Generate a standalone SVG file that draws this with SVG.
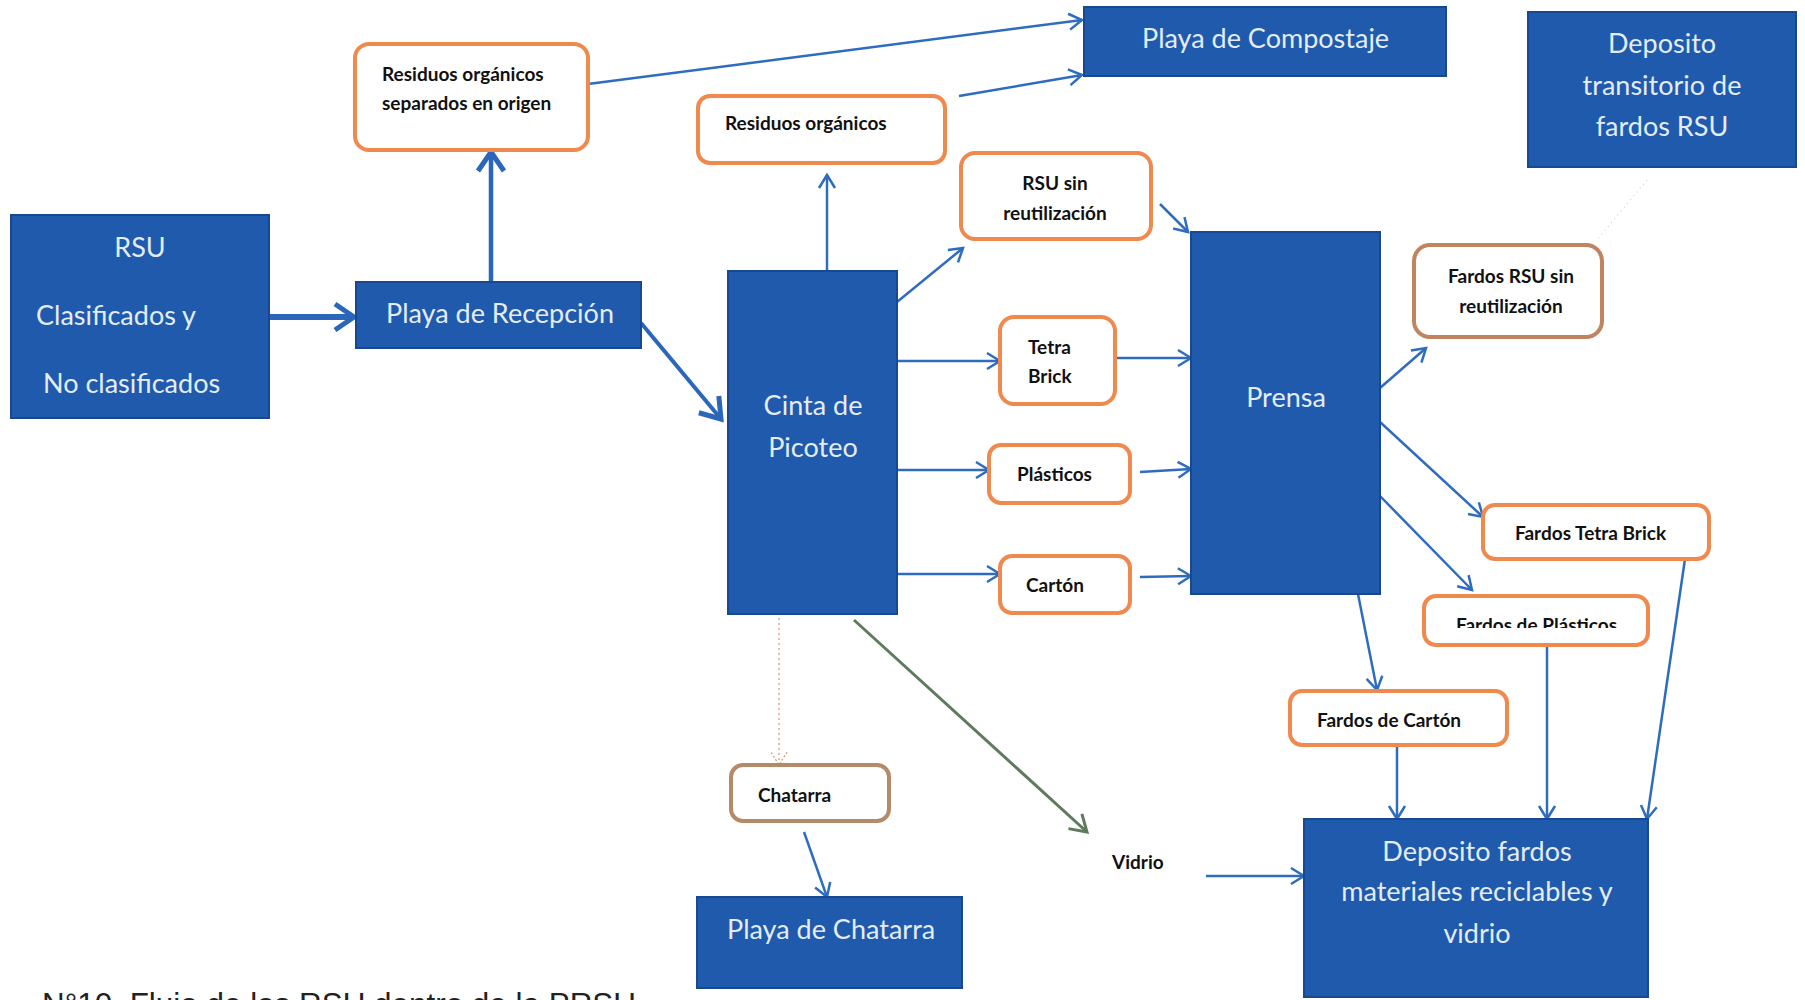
<svg xmlns="http://www.w3.org/2000/svg" width="1805" height="1000" viewBox="0 0 1805 1000">
<style>
.blue{fill:#1f5aad;stroke:#18488f;stroke-width:2}
.org{fill:#fff;stroke:#f0894e;stroke-width:4}
.brn{fill:#fff;stroke:#c0845e;stroke-width:4}
.bt{fill:#e4ecf7;font-family:Lato,"Open Sans",sans-serif;font-size:27px}
.ot{fill:#111;font-family:Lato,"Open Sans",sans-serif;font-weight:bold;font-size:19px}
.c{fill:none;stroke:#2e6cc0;stroke-width:2.5}
.ck{fill:none;stroke:#2a66ba}
.cap{fill:#222;font-family:"Liberation Sans",Arial,sans-serif;font-size:31px}
</style>
<defs>
<marker id="ah" viewBox="0 0 16 18" markerWidth="16" markerHeight="18" refX="14" refY="9" orient="auto" markerUnits="userSpaceOnUse" overflow="visible">
<path d="M1,1 L14,9 L1,17" fill="none" stroke="#2e6cc0" stroke-width="2.5"/>
</marker>
<marker id="ahL" viewBox="0 0 24 30" markerWidth="24" markerHeight="30" refX="21" refY="15" orient="auto" markerUnits="userSpaceOnUse" overflow="visible">
<path d="M2,2 L21,15 L2,28" fill="none" stroke="#2a66ba" stroke-width="5"/>
</marker>
<marker id="ahG" viewBox="0 0 20 22" markerWidth="20" markerHeight="22" refX="17" refY="11" orient="auto" markerUnits="userSpaceOnUse" overflow="visible">
<path d="M1,1 L17,11 L1,21" fill="none" stroke="#5e7b5e" stroke-width="3"/>
</marker>
<marker id="ahD" viewBox="0 0 16 18" markerWidth="16" markerHeight="18" refX="14" refY="9" orient="auto" markerUnits="userSpaceOnUse" overflow="visible">
<path d="M1,1 L14,9 L1,17" fill="none" stroke="#c89a78" stroke-width="1.2" stroke-dasharray="2 2"/>
</marker>
<clipPath id="clipFP"><rect x="1420" y="590" width="240" height="38"/></clipPath>
</defs>

<g id="connectors">
<line class="ck" x1="269" y1="317" x2="354" y2="317" stroke-width="6" marker-end="url(#ahL)"/>
<line class="ck" x1="491" y1="282" x2="491" y2="152" stroke-width="4.5" marker-end="url(#ahL)"/>
<line class="ck" x1="641" y1="323" x2="721" y2="419" stroke-width="4" marker-end="url(#ahL)"/>
<line class="c" x1="588" y1="84" x2="1082" y2="20" stroke-width="3" marker-end="url(#ah)"/>
<line class="c" x1="959" y1="96" x2="1082" y2="75" stroke-width="3" marker-end="url(#ah)"/>
<line class="c" x1="827" y1="271" x2="827" y2="175" marker-end="url(#ah)"/>
<line class="c" x1="897" y1="302" x2="963" y2="248" marker-end="url(#ah)"/>
<line class="c" x1="1160" y1="204" x2="1188" y2="232" marker-end="url(#ah)"/>
<line class="c" x1="897" y1="361" x2="1000" y2="361" marker-end="url(#ah)"/>
<line class="c" x1="1115" y1="358" x2="1191" y2="358" marker-end="url(#ah)"/>
<line class="c" x1="897" y1="470" x2="989" y2="470" marker-end="url(#ah)"/>
<line class="c" x1="1140" y1="472" x2="1191" y2="469" marker-end="url(#ah)"/>
<line class="c" x1="897" y1="574" x2="1000" y2="574" marker-end="url(#ah)"/>
<line class="c" x1="1140" y1="577" x2="1191" y2="576" marker-end="url(#ah)"/>
<line x1="779" y1="618" x2="779" y2="765" fill="none" stroke="#c89a78" stroke-width="1.2" stroke-dasharray="2 3" marker-end="url(#ahD)"/>
<line x1="854" y1="620" x2="1087" y2="832" fill="none" stroke="#5e7b5e" stroke-width="3" marker-end="url(#ahG)"/>
<line class="c" x1="804" y1="832" x2="827" y2="897" marker-end="url(#ah)"/>
<line class="c" x1="1206" y1="876" x2="1304" y2="876" marker-end="url(#ah)"/>
<line class="c" x1="1380" y1="388" x2="1426" y2="348" marker-end="url(#ah)"/>
<line class="c" x1="1380" y1="422" x2="1483" y2="517" marker-end="url(#ah)"/>
<line class="c" x1="1380" y1="496" x2="1472" y2="590" marker-end="url(#ah)"/>
<line class="c" x1="1358" y1="594" x2="1377" y2="690" marker-end="url(#ah)"/>
<line class="c" x1="1397" y1="745" x2="1397" y2="819" marker-end="url(#ah)"/>
<line class="c" x1="1547" y1="645" x2="1547" y2="819" marker-end="url(#ah)"/>
<line class="c" x1="1685" y1="559" x2="1647" y2="819" marker-end="url(#ah)"/>
<line x1="1647" y1="180" x2="1597" y2="240" fill="none" stroke="#e2cbb4" stroke-width="1.2" stroke-dasharray="1 4"/>
</g>

<g id="rsu">
<rect class="blue" x="11" y="215" width="258" height="203"/>
<text class="bt" x="140" y="257" text-anchor="middle">RSU</text>
<text class="bt" x="36" y="325">Clasificados y</text>
<text class="bt" x="43" y="393">No clasificados</text>
</g>
<g id="playa-recepcion">
<rect class="blue" x="356" y="282" width="285" height="66"/>
<text class="bt" x="386" y="323">Playa de Recepción</text>
</g>
<g id="residuos-separados">
<rect class="org" x="355" y="44" width="233" height="106" rx="14"/>
<text class="ot" x="382" y="81">Residuos orgánicos</text>
<text class="ot" x="382" y="110">separados en origen</text>
</g>
<g id="playa-compostaje">
<rect class="blue" x="1084" y="7" width="362" height="69"/>
<text class="bt" x="1142" y="48">Playa de Compostaje</text>
</g>
<g id="deposito-transitorio">
<rect class="blue" x="1528" y="12" width="268" height="155"/>
<text class="bt" x="1662" y="53" text-anchor="middle">Deposito</text>
<text class="bt" x="1662" y="95" text-anchor="middle">transitorio de</text>
<text class="bt" x="1662" y="136" text-anchor="middle">fardos RSU</text>
</g>
<g id="residuos-organicos">
<rect class="org" x="698" y="96" width="247" height="67" rx="12"/>
<text class="ot" x="725" y="130">Residuos orgánicos</text>
</g>
<g id="rsu-sin-reutilizacion">
<rect class="org" x="961" y="153" width="190" height="86" rx="14"/>
<text class="ot" x="1055" y="190" text-anchor="middle">RSU sin</text>
<text class="ot" x="1055" y="220" text-anchor="middle">reutilización</text>
</g>
<g id="cinta-picoteo">
<rect class="blue" x="728" y="271" width="169" height="343"/>
<text class="bt" x="813" y="415" text-anchor="middle">Cinta de</text>
<text class="bt" x="813" y="457" text-anchor="middle">Picoteo</text>
</g>
<g id="tetra-brick">
<rect class="org" x="1000" y="317" width="115" height="87" rx="14"/>
<text class="ot" x="1028" y="354">Tetra</text>
<text class="ot" x="1028" y="383">Brick</text>
</g>
<g id="plasticos">
<rect class="org" x="989" y="445" width="141" height="58" rx="12"/>
<text class="ot" x="1017" y="481">Plásticos</text>
</g>
<g id="carton">
<rect class="org" x="1000" y="556" width="130" height="57" rx="12"/>
<text class="ot" x="1026" y="592">Cartón</text>
</g>
<g id="prensa">
<rect class="blue" x="1191" y="232" width="189" height="362"/>
<text class="bt" x="1286" y="407" text-anchor="middle">Prensa</text>
</g>
<g id="fardos-rsu">
<rect class="brn" x="1414" y="245" width="188" height="92" rx="16"/>
<text class="ot" x="1511" y="283" text-anchor="middle">Fardos RSU sin</text>
<text class="ot" x="1511" y="313" text-anchor="middle">reutilización</text>
</g>
<g id="fardos-tetra">
<rect class="org" x="1483" y="505" width="226" height="54" rx="12"/>
<text class="ot" x="1515" y="540">Fardos Tetra Brick</text>
</g>
<g id="fardos-plasticos">
<rect class="org" x="1424" y="596" width="224" height="49" rx="12"/>
<text class="ot" x="1456" y="632" clip-path="url(#clipFP)">Fardos de Plásticos</text>
</g>
<g id="fardos-carton">
<rect class="org" x="1290" y="691" width="217" height="54" rx="12"/>
<text class="ot" x="1317" y="727">Fardos de Cartón</text>
</g>
<g id="deposito-fardos">
<rect class="blue" x="1304" y="819" width="344" height="178"/>
<text class="bt" x="1477" y="861" text-anchor="middle">Deposito fardos</text>
<text class="bt" x="1477" y="901" text-anchor="middle">materiales reciclables y</text>
<text class="bt" x="1477" y="943" text-anchor="middle">vidrio</text>
</g>
<g id="chatarra">
<rect class="brn" x="731" y="765" width="158" height="56" rx="12" style="stroke:#b58a68"/>
<text class="ot" x="758" y="802">Chatarra</text>
</g>
<g id="playa-chatarra">
<rect class="blue" x="697" y="897" width="265" height="91"/>
<text class="bt" x="727" y="939">Playa de Chatarra</text>
</g>
<g id="vidrio">
<text class="ot" x="1112" y="869">Vidrio</text>
</g>
<text class="cap" x="42" y="1015" textLength="594" lengthAdjust="spacingAndGlyphs">N°10. Flujo de los RSU dentro de la PRSU</text>
</svg>
